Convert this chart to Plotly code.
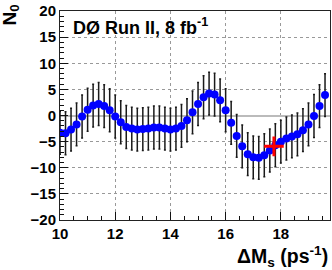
import plotly.graph_objects as go

# Delta M_s scan points (ps^-1)
dms = [10.0, 10.2, 10.4, 10.6, 10.8, 11.0, 11.2, 11.4, 11.6, 11.8,
       12.0, 12.2, 12.4, 12.6, 12.8, 13.0, 13.2, 13.4, 13.6, 13.8,
       14.0, 14.2, 14.4, 14.6, 14.8, 15.0, 15.2, 15.4, 15.6, 15.8,
       16.0, 16.2, 16.4, 16.6, 16.8, 17.0, 17.2, 17.4, 17.6, 17.8,
       18.0, 18.2, 18.4, 18.6, 18.8, 19.0, 19.2, 19.4, 19.6]
n0 = [-3.3, -3.4, -2.7, -1.7, -0.2, 1.1, 1.9, 2.2, 1.8, 1.0,
      -0.2, -1.3, -2.2, -2.5, -2.7, -2.6, -2.5, -2.3, -2.3, -2.5,
      -2.7, -2.5, -2.0, -0.9, 0.6, 2.2, 3.5, 4.2, 4.0, 2.9,
      1.0, -1.4, -3.9, -5.9, -7.4, -8.0, -8.1, -7.6, -6.7, -5.7,
      -5.0, -4.4, -4.0, -3.6, -2.8, -1.7, -0.1, 1.8, 3.9]
n0_err = [4.1, 4.1, 4.1, 4.1, 4.1, 4.1, 4.1, 4.1, 4.1, 4.1,
          4.1, 4.1, 4.1, 4.1, 4.1, 4.1, 4.1, 4.1, 4.1, 4.1,
          4.1, 4.1, 4.1, 4.1, 4.1, 4.1, 4.1, 4.1, 4.1, 4.1,
          4.1, 4.1, 4.1, 4.1, 4.1, 4.1, 4.1, 4.1, 4.1, 4.1,
          4.1, 4.1, 4.1, 4.1, 4.1, 4.1, 4.1, 4.1, 4.1]
cross_x = [17.75]
cross_y = [-5.9]

x_ticks = [10, 12, 14, 16, 18]
y_ticks = [-20, -15, -10, -5, 0, 5, 10, 15, 20]

FONT = "Liberation Sans, Arial, Helvetica, sans-serif"

fig = go.Figure()
fig.add_trace(go.Scatter(
    x=dms, y=n0, mode="markers",
    marker=dict(color="#0000ff", size=8, line=dict(width=0)),
    error_y=dict(type="data", array=n0_err, visible=True,
                 color="#1a1a1a", thickness=1.5, width=1),
    showlegend=False))
fig.add_trace(go.Scatter(
    x=cross_x, y=cross_y, mode="markers",
    marker=dict(symbol="cross-thin", size=14, color="#ff0000",
                line=dict(color="#ff0000", width=3)),
    showlegend=False))

axis_common = dict(
    showline=True, linecolor="#222", linewidth=1, mirror=True,
    showgrid=True, gridcolor="#999", griddash="dot", gridwidth=1,
    ticks="inside", tickcolor="#111", tickwidth=1,
    tickfont=dict(family=FONT, size=15, color="black", weight="bold"),
)

fig.update_xaxes(range=[10, 19.78], tickvals=x_ticks, ticklen=8,
                 minor=dict(dtick=0.5, tick0=10, ticks="inside", ticklen=4,
                            tickcolor="#111", showgrid=False),
                 zeroline=False, **axis_common)
fig.update_yaxes(range=[-20, 20], tickvals=y_ticks, ticklen=8,
                 minor=dict(dtick=1, tick0=0, ticks="inside", ticklen=4,
                            tickcolor="#111", showgrid=False),
                 zeroline=True, zerolinecolor="#bbb", zerolinewidth=1.5,
                 **axis_common)

fig.update_layout(
    width=332, height=270,
    margin=dict(l=60, r=2, t=11, b=50),
    plot_bgcolor="white", paper_bgcolor="white",
    font=dict(family=FONT, color="black"),
    annotations=[
        dict(text="<b>DØ Run II, 8 fb<sup>-1</sup></b>", xref="paper", yref="paper",
             x=0.04, y=0.99, xanchor="left", yanchor="top", showarrow=False,
             font=dict(family=FONT, size=18, color="black")),
        dict(text="<b>ΔM<sub>s</sub> (ps<sup>-1</sup>)</b>", xref="paper", yref="paper",
             x=1.0, y=0, xanchor="right", yanchor="top", yshift=-21, showarrow=False,
             font=dict(family=FONT, size=19.5, color="black")),
        dict(text="<b>N<sub>0</sub></b>", xref="paper", yref="paper",
             x=0, y=1.0, xanchor="right", yanchor="top", xshift=-36, yshift=8,
             textangle=-90, showarrow=False,
             font=dict(family=FONT, size=19, color="black")),
    ],
)

fig.write_html("out.html", config={"displayModeBar": False},
               post_script="document.body.style.margin='0';")
